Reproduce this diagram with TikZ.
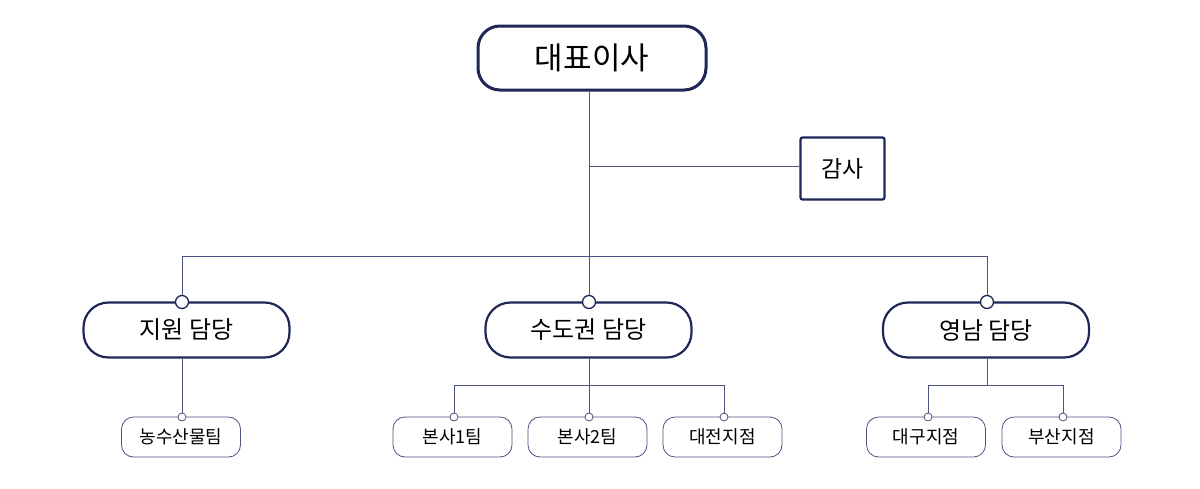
\documentclass[tikz,border=0pt]{standalone}
\usepackage{fontspec}
\setmainfont{Noto Sans CJK KR}
\definecolor{navy}{HTML}{1F2757}
\definecolor{linec}{HTML}{4A5382}
\begin{document}
\begin{tikzpicture}[x=1pt,y=-1pt,
  topbox/.style={draw=navy,line width=3pt,rounded corners=22pt,fill=white,minimum width=228pt,minimum height=64pt,inner sep=0pt,font=\fontsize{31}{34}\selectfont},
  auditbox/.style={draw=navy,line width=2.2pt,rounded corners=2pt,fill=white,minimum width=84pt,minimum height=62pt,inner sep=0pt,font=\fontsize{23}{26}\selectfont},
  midbox/.style={draw=navy,line width=2.2pt,rounded corners=25pt,fill=white,minimum width=206pt,minimum height=55pt,inner sep=0pt,font=\fontsize{24}{27}\selectfont},
  smallbox/.style={draw=linec,line width=0.8pt,rounded corners=12pt,fill=white,minimum width=119pt,minimum height=40pt,inner sep=0pt,font=\fontsize{18}{21}\selectfont},
  bigdot/.style={circle,draw=navy,line width=1.3pt,fill=white,minimum size=13pt,inner sep=0pt},
  smalldot/.style={circle,draw=linec,line width=0.8pt,fill=white,minimum size=8pt,inner sep=0pt},
  conn/.style={draw=linec,line width=0.9pt}]
\useasboundingbox (0,0) rectangle (1200,488);
% nodes
\node[topbox] (ceo) at (592,58) {대표이사};
\node[auditbox] (audit) at (842.5,168.5) {감사};
\node[midbox] (m1) at (186.5,330) {지원 담당};
\node[midbox] (m2) at (588.5,330) {수도권 담당};
\node[midbox] (m3) at (986,330) {영남 담당};
\node[smallbox] (s1) at (181,437) {농수산물팀};
\node[smallbox] (s2) at (452.5,437) {본사1팀};
\node[smallbox] (s3) at (587.5,437) {본사2팀};
\node[smallbox] (s4) at (722.5,437) {대전지점};
\node[smallbox] (s5) at (926,437) {대구지점};
\node[smallbox] (s6) at (1061.5,437) {부산지점};
% coordinates
\coordinate (bus) at (589,256);
\coordinate (tap) at (589,166);
\coordinate (busL) at (182,256);
\coordinate (busR) at (987,256);
\coordinate (b2L) at (454,385);
\coordinate (b2M) at (589,385);
\coordinate (b2R) at (724,385);
\coordinate (b3L) at (928,385);
\coordinate (b3M) at (987,385);
\coordinate (b3R) at (1063,385);
% dots
\node[bigdot] (d1) at (182,302) {};
\node[bigdot] (d2) at (589,302) {};
\node[bigdot] (d3) at (987,302) {};
\node[smalldot] (e1) at (182,417) {};
\node[smalldot] (e2) at (454,417) {};
\node[smalldot] (e3) at (589,417) {};
\node[smalldot] (e4) at (724,417) {};
\node[smalldot] (e5) at (928,417) {};
\node[smalldot] (e6) at (1063,417) {};
% connectors
\path[conn] (ceo.south -| bus) -- (bus);
\path[conn] (tap) -- (tap -| audit.west);
\path[conn] (busL) -- (busR);
\path[conn] (busL) -- (d1.north);
\path[conn] (bus) -- (d2.north);
\path[conn] (busR) -- (d3.north);
\path[conn] (m1.south -| e1) -- (e1.north);
\path[conn] (m2.south -| b2M) -- (b2M);
\path[conn] (b2L) -- (b2R);
\path[conn] (b2L) -- (e2.north);
\path[conn] (b2M) -- (e3.north);
\path[conn] (b2R) -- (e4.north);
\path[conn] (m3.south -| b3M) -- (b3M);
\path[conn] (b3L) -- (b3R);
\path[conn] (b3L) -- (e5.north);
\path[conn] (b3R) -- (e6.north);
\end{tikzpicture}
\end{document}
